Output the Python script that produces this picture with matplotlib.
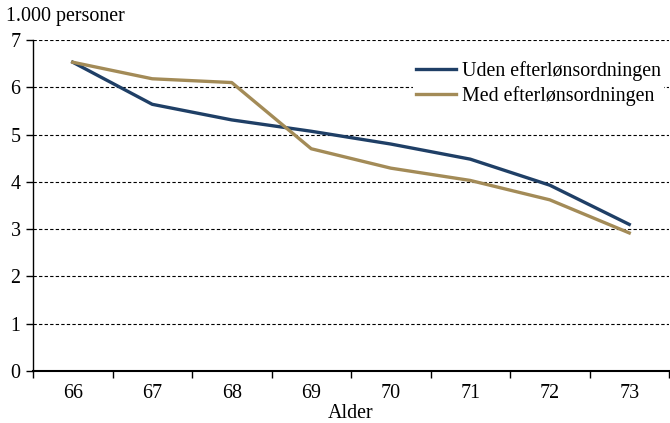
import matplotlib.pyplot as plt
import numpy as np

alder = ["66", "67", "68", "69", "70", "71", "72", "73"]
uden = [6.53, 5.64, 5.31, 5.07, 4.80, 4.48, 3.93, 3.10]
med = [6.53, 6.18, 6.10, 4.70, 4.29, 4.03, 3.62, 2.92]

plt.rcParams['font.family'] = ['Liberation Serif', 'DejaVu Serif']
fs = 14.4

fig = plt.figure(figsize=(6.7, 4.23), dpi=100)
ax = fig.add_axes([33/670, 52/423, 636/670, 331/423])

x = np.arange(len(alder))
ax.plot(x, uden, color="#1f3f66", lw=2.4, label="Uden efterlønsordningen", zorder=3)
ax.plot(x, med, color="#a38b57", lw=2.4, label="Med efterlønsordningen", zorder=3)

ax.set_ylim(0, 7)
ax.set_xlim(-0.5, len(alder) - 0.5)
ax.set_yticks(range(0, 8))
ax.set_xticks(x)
ax.set_xticklabels(alder)
ax.set_xticks(np.arange(-0.5, len(alder)), minor=True)
ax.tick_params(axis="x", which="major", length=0, labelsize=fs, pad=9)
ax.tick_params(axis="x", which="minor", length=5, direction="out", width=1)
ax.tick_params(axis="y", length=5, direction="out", labelsize=fs, pad=4, width=1)

ax.grid(axis="y", color="black", linestyle=(0, (3, 2)), linewidth=0.8)
ax.set_axisbelow(True)
for s in ["top", "right"]:
    ax.spines[s].set_visible(False)
ax.spines["left"].set_linewidth(1)
ax.spines["bottom"].set_linewidth(1.5)

ax.set_xlabel("Alder", fontsize=fs, labelpad=1)
fig.text(6/670, 1 - 17/423, "1.000 personer", fontsize=fs, va="center", ha="left")

leg = ax.legend(loc="upper left", bbox_to_anchor=(0.598, 0.945), frameon=True, fontsize=fs,
                handlelength=2.0, handletextpad=0.3, labelspacing=0.25, borderaxespad=0,
                borderpad=0.15, fancybox=False)
leg.get_frame().set_facecolor("white")
leg.get_frame().set_edgecolor("none")
leg.get_frame().set_alpha(1)

fig.savefig("out.png", dpi=100)
